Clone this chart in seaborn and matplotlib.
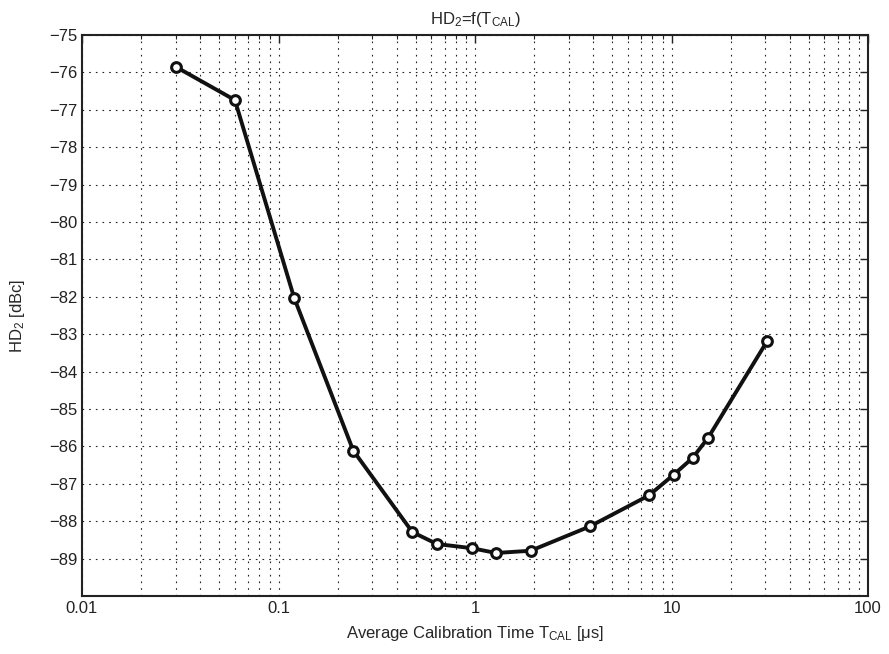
import matplotlib
matplotlib.use("Agg")
import matplotlib.pyplot as plt
import seaborn as sns
import pandas as pd
import numpy as np
from matplotlib.ticker import LogLocator, NullFormatter

t_cal = [0.03, 0.06, 0.12, 0.24, 0.48, 0.64, 0.96, 1.28, 1.92, 3.84, 7.68, 10.24, 12.8, 15.36, 30.72]
hd2 = [-75.85, -76.74, -82.02, -86.11, -88.29, -88.61, -88.72, -88.85, -88.79, -88.14, -87.31, -86.76, -86.31, -85.77, -83.18]
xtick_vals = [0.01, 0.1, 1, 10, 100]
xtick_labels = ["0.01", "0.1", "1", "10", "100"]
ytick_vals = list(range(-89, -74))

sns.set_theme(style="white")
plt.rcParams['font.family'] = ['Liberation Sans', 'DejaVu Sans']
plt.rcParams['mathtext.fontset'] = 'custom'
plt.rcParams['mathtext.rm'] = 'Liberation Sans'
plt.rcParams['mathtext.it'] = 'Liberation Sans'

df = pd.DataFrame({"t": t_cal, "hd2": hd2})

fig = plt.figure(figsize=(8.89, 6.54), dpi=100)
ax = fig.add_axes([82/889, 58/654, (868-82)/889, (596-35)/654])

sns.lineplot(data=df, x="t", y="hd2", ax=ax, color="#111111", linewidth=2.8,
             marker="o", markersize=7, markerfacecolor="white",
             markeredgecolor="#111111", markeredgewidth=2.2, zorder=5)

ax.set_xscale("log")
ax.set_xlim(0.01, 100)
ax.set_ylim(-90, -75)
ax.set_xticks(xtick_vals)
ax.set_xticklabels(xtick_labels)
ax.xaxis.set_minor_locator(LogLocator(base=10, subs=np.arange(2, 10)))
ax.xaxis.set_minor_formatter(NullFormatter())
ax.set_yticks(ytick_vals)
ax.set_yticklabels([f"\u2212{abs(v)}" for v in ytick_vals])

grid_kw = dict(color="#222222", linestyle=(0, (1.5, 4.5)), linewidth=0.8)
ax.grid(True, which="major", axis="both", **grid_kw)
ax.grid(True, which="minor", axis="x", **grid_kw)

ax.tick_params(axis="both", which="both", direction="in", top=True, right=True,
               labelsize=12, colors="#222222")
ax.tick_params(which="major", length=6, width=1)
ax.tick_params(which="minor", length=3, width=0.8)
for s in ax.spines.values():
    s.set_color("#222222")
    s.set_linewidth(1.5)

ax.set_xlabel("Average Calibration Time T$_{\\mathrm{CAL}}$ [\u03bcs]", fontsize=12, labelpad=6)
ax.set_ylabel("HD$_{2}$ [dBc]", fontsize=12, labelpad=16)
ax.set_title("HD$_{2}$=f(T$_{\\mathrm{CAL}}$)", fontsize=12, pad=8)

fig.savefig("out.png", dpi=100)
